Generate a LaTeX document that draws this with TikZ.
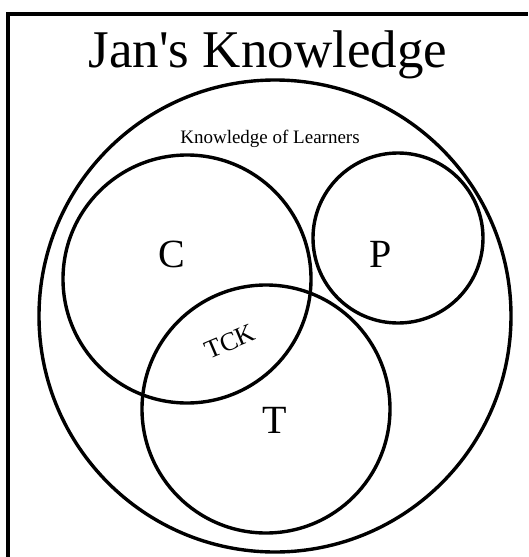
\documentclass[tikz,border=0pt]{standalone}
\usepackage{fontspec}
\setmainfont{Liberation Serif}
\newcommand{\straightquote}{\XeTeXglyph\XeTeXglyphindex "quotesingle" }
\begin{document}
\begin{tikzpicture}[x=1pt,y=-1pt,
  ring/.style={draw, circle, line width=3.4pt, inner sep=0pt},
  lbl/.style={anchor=base, inner sep=0pt, font=\fontsize{40}{40}\selectfont}]
\useasboundingbox (0,0) rectangle (528,557);
\draw[line width=3.2pt] (8,557) -- (8,14) -- (528,14);
\node[anchor=base, inner sep=0pt, font=\fontsize{53}{53}\selectfont] (title) at (268,67) {Jan\straightquote s Knowledge};
\node[ring, minimum size=472pt] (K) at (275,316) {};
\node[ring, minimum size=248pt] (C) at (187,279) {};
\node[ring, minimum size=170pt] (P) at (398,238) {};
\node[ring, minimum size=248pt] (T) at (266,409) {};
\node[anchor=base, inner sep=0pt, font=\fontsize{19}{19}\selectfont] (kl) at (270,143) {Knowledge of Learners};
\node[lbl] (c) at (172,267) {C};
\node[lbl] (p) at (381,267) {P};
\node[lbl] (t) at (275,433) {T};
\node[inner sep=0pt, rotate=23, font=\fontsize{26}{26}\selectfont] (tck) at (230,342) {TCK};
\end{tikzpicture}
\end{document}
